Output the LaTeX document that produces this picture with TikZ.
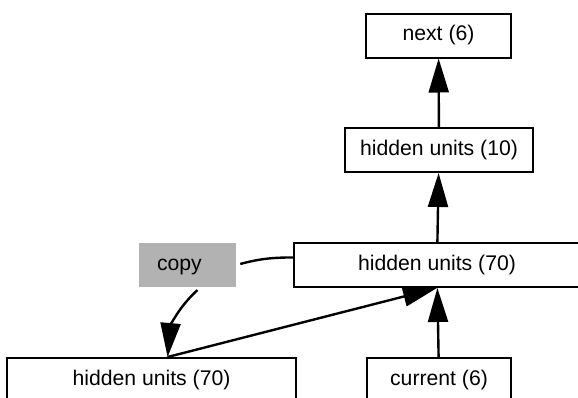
\documentclass[tikz,border=0pt]{standalone}
\usepackage{fontspec}
\setmainfont{Liberation Sans}
\usetikzlibrary{arrows.meta}
\tikzset{
  unit/.style={draw, line width=1pt, minimum height=22pt, inner sep=0pt,
    font=\fontsize{10.6}{12}\selectfont},
  copybox/.style={fill=black!30, minimum height=22pt, inner xsep=9pt,
    text width=30.5pt, text height=7.7pt, text depth=2.2pt, align=left,
    font=\fontsize{10.6}{12}\selectfont},
  link/.style={line width=1.2pt, -{Triangle[length=17pt,width=10pt]}}
}
\begin{document}
\begin{tikzpicture}[x=0.5pt,y=-0.5pt]
\useasboundingbox (0,0) rectangle (578,397);
\node[unit, minimum width=72.5pt] (next) at (438.5,35.5) {next (6)};
\node[unit, minimum width=94pt] (hten) at (439,150) {hidden units (10)};
\node[unit, minimum width=143pt] (hsev) at (437,265) {hidden units (70)};
\node[copybox] (copy) at (187.5,265) {copy};
\node[unit, minimum width=72pt] (cur) at (439,380) {current (6)};
\node[unit, minimum width=144.5pt] (hold) at (151.5,380) {hidden units (70)};
\draw[link] (hten) -- (next);
\draw[link] (hsev) -- (hten);
\draw[link] (cur) -- (hsev);
\draw[link] (hold.55) -- (hsev.south);
\draw[line width=1.2pt, shorten >=2pt] (hsev.177) to[out=180,in=15] (copy.east);
\draw[link, shorten <=2pt] (copy.-60) to[out=222,in=85] (hold.55);
\end{tikzpicture}
\end{document}
